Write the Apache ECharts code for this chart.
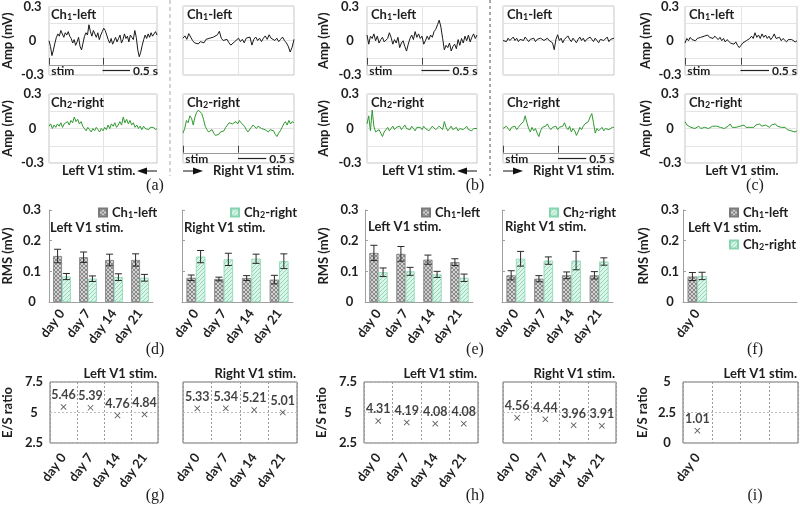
<!DOCTYPE html>
<html><head><meta charset="utf-8">
<script src="https://cdn.jsdelivr.net/npm/echarts@6/dist/echarts.min.js"></script>
<style>html,body{margin:0;padding:0;background:#fff}#c{width:800px;height:505px}</style>
</head><body><div id="c"></div>
<script>
// ---------------- DATA ----------------
// Top row: EEG traces (mV), evenly sampled over 0..2 s
const aL_ch1 = [0.00,-0.05,-0.13,-0.08,-0.02,0.03, 0.06,0.04,0.09,0.06,0.03,0.07,0.05,0.08,0.04, 0.02,-0.02,0.01,-0.04,-0.01,0.03,-0.05,-0.08,-0.02,0.04, 0.07,0.05,0.14,0.08,0.04,0.09,0.06,0.03,0.07,0.01,0.05,0.08,0.11,0.09, 0.05,0.01,-0.02,0.02,-0.03,0.00,0.03,-0.01,0.02,0.05,-0.02,0.01,0.06,0.02,0.04,-0.01,0.05,0.03,0.01,0.09, 0.03,-0.08,-0.14,-0.10,-0.04,0.01,0.05,0.02,0.06,0.03,0.07,0.04,0.06,0.08,0.05];
const aR_ch1 = [0.02,0.04,0.01,0.06,0.03,0.00,-0.02,-0.01, -0.03,-0.01,0.00,-0.02,0.01,0.00,0.02,0.01,0.03, 0.02,0.05,0.08,0.02,0.00,-0.01,0.01,-0.02,-0.04, -0.05,-0.01,0.00,0.02,-0.01,0.01,-0.02,0.02,0.01,0.03, -0.04,0.01,0.03,0.00,0.02,-0.01,0.02,0.04,0.01, 0.05,0.02,0.03,0.00,0.02,-0.01,0.01,0.03,0.00,-0.02,-0.05,-0.10,-0.06,0.01];
const aL_ch2 = [0.02,0.04,0.00,0.03,0.01,0.04,0.02,0.05,0.01,0.04,0.03, 0.06,0.03,0.07,0.05,0.10,0.06,0.08,0.04,0.06,0.02, 0.00,-0.02,0.01,-0.01,-0.03,0.00,-0.02,0.01,-0.01,-0.03,0.00,-0.02, 0.01,-0.01,0.03,0.00,0.04,0.02,0.05,0.01,0.03,0.06,0.03,0.10,0.05,0.08,0.04,0.07,0.03,0.05, 0.01,0.03,0.00,0.02,-0.01,0.02,0.00,0.01,-0.01,0.01,0.00,0.01,-0.01,0.00];
const aR_ch2 = [-0.04,0.00,0.07,0.05,0.11,0.09,0.03,0.10,0.14,0.16, 0.15,0.13,0.08,0.02,-0.01,-0.03,-0.02,-0.01,-0.04,-0.06, -0.07,-0.05,-0.03,-0.04,-0.02,0.01,0.03,0.05,0.06,0.04, 0.03,0.06,0.04,0.07,0.05,0.06,0.02,-0.01,-0.03,-0.02, 0.01,0.03,0.02,0.00,0.02,0.01,0.00,0.01,-0.01,0.00, -0.03,-0.01,0.00,-0.02,-0.05,-0.07,-0.04,-0.02,0.01,0.04,0.06,0.03,0.07,0.04,0.06,0.05];
const bL_ch1 = [0.05,-0.03,0.04,0.02,0.06,0.00,0.04,-0.02,0.01,0.03,-0.01, 0.00,0.02,0.07,0.03,-0.03,0.01,-0.02,0.03,-0.06,-0.02, 0.00,-0.05,-0.09,-0.03,0.02,0.05,0.01,0.08,0.03,0.06, 0.02,0.04,-0.03,0.00,0.04,0.01,0.05,0.03,0.08,0.10, 0.14,0.18,0.12,0.02,-0.08,-0.04,-0.06,-0.02,-0.09,-0.05, -0.03,-0.07,0.01,-0.04,0.02,-0.02,0.04,0.00,0.05,-0.01,0.03,0.06,0.02,0.05];
const bR_ch1 = [0.00,0.01,-0.01,0.02,0.00,0.01,0.03,0.00,0.02,-0.01,0.01,0.02,0.00,0.03,0.01,-0.01,0.01,0.00,0.02,-0.01,0.01,0.00,0.02,0.01,0.00,-0.01,0.02,0.00,0.01,-0.02, -0.08,0.01,0.05,0.00, 0.02,-0.02,0.01,0.00,0.04,0.01,-0.01,0.02,0.00,-0.02,0.01,0.03,0.00,0.02,-0.01,0.01,0.00,0.03,0.01,-0.01,0.02,0.00,-0.02,0.01,0.02,0.00,0.01,0.03,-0.01,0.01,0.00,0.02];
const bL_ch2 = [0.04,0.11,-0.02,0.16,0.02,-0.03,-0.04,-0.01,-0.02,-0.07,-0.03, -0.01,0.01,-0.02,0.00,0.02,-0.01,0.01,0.00,0.02,-0.01,0.01,0.03,0.00,0.01,-0.01,0.02,0.00,-0.02,0.01,0.00, 0.01,-0.01,0.02,0.00,0.01,-0.02,0.00,0.02,0.01,-0.01,0.00,0.02,0.01,-0.01,0.06,0.01,-0.02,0.00,0.02,-0.01, 0.00,0.01,-0.02,0.00,0.01,-0.01,0.00,0.02,-0.01,0.00,-0.02,0.00,0.01,0.00];
const bR_ch2 = [0.00,-0.01,0.02,0.00,-0.02,0.01,0.00,0.02,-0.01,0.01, 0.03,0.02,0.06,0.11,0.05,0.00,-0.03,0.01,-0.02,0.00, -0.04,-0.07,-0.02,0.01,0.00,0.02,0.04,0.01,-0.01,0.01, 0.00,0.02,-0.01,0.01,0.00,0.02,0.05,0.01,-0.01,0.02, -0.03,0.00,-0.02,-0.06,-0.03,0.01,-0.01,0.02,0.04,0.03, 0.06,0.10,0.13,0.05,-0.04,0.00,-0.02,-0.01,0.01,-0.02,0.00,0.01,-0.01,0.00,0.01,0.01];
const c_ch1 = [-0.02,0.02,0.00,0.03,0.01,0.02,0.00,0.02,0.01,0.03,0.02,0.04,0.03,0.05,0.03,0.04,0.02,0.04, 0.03,0.01,0.03,0.00,0.02,-0.01,0.01,0.00,-0.02,-0.01,-0.03,-0.01,-0.04,-0.06, -0.04,-0.02,-0.03,0.00,-0.01,0.02,0.04,0.02,0.07,0.03,0.05,0.02,0.06,0.03,0.05, 0.02,0.04,0.01,0.03,0.06,0.02,0.01,0.03,0.00,0.02,0.01,-0.01,0.01,0.00,0.01,0.00,-0.01,0.00];
const c_ch2 = [0.06,0.03,0.02,0.01,0.02,0.00,0.01,0.02,0.00,0.01,0.01,0.02,0.00,0.01,0.02,0.01,0.02,0.03,0.01,0.02,0.00,0.01,0.02,0.04,0.01,0.02,0.01,0.00,0.02,0.01,0.03,0.01,0.02,0.01,0.02,0.01,0.03,0.02,0.04,0.02,0.01,0.03,0.02,0.01,0.03,0.02,0.04,0.02,0.03,0.01,0.00,0.01,-0.01,0.00,-0.02,-0.01,-0.03,-0.02];

// Middle row: RMS (mV) mean and error
const days = ['day 0','day 7','day 14','day 21'];
const daysF = ['day 0','','',''];
const dL_ch1 = [0.150,0.146,0.137,0.137], dL_ch1e = [0.022,0.017,0.019,0.020];
const dL_ch2 = [0.083,0.076,0.081,0.079], dL_ch2e = [0.010,0.009,0.011,0.011];
const dR_ch1 = [0.079,0.075,0.078,0.073], dR_ch1e = [0.009,0.006,0.008,0.014];
const dR_ch2 = [0.148,0.139,0.141,0.133], dR_ch2e = [0.020,0.020,0.015,0.024];
const eL_ch1 = [0.160,0.157,0.138,0.130], eL_ch1e = [0.025,0.024,0.015,0.011];
const eL_ch2 = [0.097,0.100,0.090,0.079], eL_ch2e = [0.014,0.013,0.010,0.012];
const eR_ch1 = [0.087,0.076,0.087,0.087], eR_ch1e = [0.015,0.010,0.011,0.012];
const eR_ch2 = [0.141,0.135,0.135,0.132], eR_ch2e = [0.024,0.012,0.030,0.012];
const f_ch1 = [0.083], f_ch1e = [0.013];
const f_ch2 = [0.085], f_ch2e = [0.012];

// Bottom row: E/S ratio
const gL = [5.46,5.39,4.76,4.84], gR = [5.33,5.34,5.21,5.01];
const hL = [4.31,4.19,4.08,4.08], hR = [4.56,4.44,3.96,3.91];
const iL = [1.01];

// ---------------- BUILD ----------------
const FONT = 'Lato', TXT = '#1e1e1e';
const grid=[], xAxis=[], yAxis=[], series=[], title=[], legend=[], graphic=[];
const richCh = {
  a:{fontFamily:FONT,fontWeight:'bold',fontSize:13,color:TXT},
  s:{fontFamily:FONT,fontWeight:'bold',fontSize:9,color:TXT,padding:[6,0,0,0]}
};
function chText(n){ return n===1 ? '{a|Ch}{s|1}{a|-left}' : '{a|Ch}{s|2}{a|-right}'; }
const lbl = {fontFamily:FONT,fontWeight:'bold',fontSize:13,color:TXT};

function near(a,b){return Math.abs(a-b)<1e-6;}

function trace(left, top, width, vals, color, ch, yOpt, stim){
  const gi = grid.length;
  grid.push({left, top, width, height:69, show:true, borderColor:'#c4c4c4', borderWidth:1});
  xAxis.push({type:'value', gridIndex:gi, min:0, max:2, interval:1, axisLine:{show:false}, axisTick:{show:false}, axisLabel:{show:false}, splitLine:{show:true,lineStyle:{color:'#e4e4e4'}}});
  yAxis.push({type:'value', gridIndex:gi, min:-0.3, max:0.3, interval:0.15, axisLine:{show:false}, axisTick:{show:false},
    axisLabel: yOpt ? {show:true, ...lbl, align:'center', margin:yOpt.margin, formatter:v=> near(v,0.3)?'0.3':near(v,0)?'0':near(v,-0.3)?'-0.3':''} : {show:false},
    splitLine:{show:true,lineStyle:{color:'#e4e4e4'}},
    name: yOpt ? 'Amp (mV)' : '', nameLocation:'middle', nameGap: yOpt ? yOpt.gap : 0, nameTextStyle:lbl});
  const dt = 2/(vals.length-1);
  const s = {type:'line', xAxisIndex:gi, yAxisIndex:gi, data: vals.map((v,i)=>[i*dt, v]), symbol:'none', silent:true, animation:false,
    lineStyle:{color, width:1}, z:3};
  if (stim){
    const st = {fontFamily:FONT,fontWeight:'bold',fontSize:12,color:TXT};
    s.markLine = {silent:true, animation:false, symbol:['none','none'], label:{show:false}, data:[
      [{coord:[0.01,-0.15], lineStyle:{color:'#444',width:1,type:'solid'}},{coord:[0.01,-0.21]}],
      [{coord:[1,-0.15], lineStyle:{color:'#444',width:1,type:'solid'}},{coord:[1,-0.21]}],
      [{coord:[0,-0.213], lineStyle:{color:'#999',width:1,type:'solid'}},{coord:[2,-0.213]}],
      [{coord:[0.99,-0.262], lineStyle:{color:'#222',width:1.2,type:'solid'}, label:{show:true, position:'end', distance:3, formatter:'0.5 s', ...st}},{coord:[1.5,-0.262]}]
    ]};
    s.markPoint = {silent:true, animation:false, data:[{coord:[0.04,-0.262], symbol:'circle', symbolSize:0.1, itemStyle:{color:'transparent'},
      label:{show:true, position:'right', distance:0, formatter:'stim', ...st}}]};
  }
  series.push(s);
  title.push({text:chText(ch), left:left+4, top:top+1, padding:0, textStyle:{rich:richCh}});
}

const T1 = 6, T2 = 94;
trace(47, T1, 110, aL_ch1, '#1a1a1a', 1, {margin:16.5, gap:35}, true);
trace(47, T2, 110, aL_ch2, '#2f9a2f', 2, {margin:16.5, gap:35}, false);
trace(183, T1, 111, aR_ch1, '#1a1a1a', 1, null, false);
trace(183, T2, 111, aR_ch2, '#2f9a2f', 2, null, true);
trace(367, T1, 110, bL_ch1, '#1a1a1a', 1, {margin:17, gap:37}, true);
trace(367, T2, 110, bL_ch2, '#2f9a2f', 2, {margin:17, gap:37}, false);
trace(503, T1, 111, bR_ch1, '#1a1a1a', 1, null, false);
trace(503, T2, 111, bR_ch2, '#2f9a2f', 2, null, true);
trace(685, T1, 112, c_ch1, '#1a1a1a', 1, {margin:15, gap:33}, true);
trace(685, T2, 112, c_ch2, '#2f9a2f', 2, {margin:15, gap:33}, false);

// patterns
function pat(draw, w, h){ const c=document.createElement('canvas'); c.width=w; c.height=h; const g=c.getContext('2d'); draw(g); return c; }
const pat1 = pat(g=>{ g.fillStyle='#d2d2d2'; g.fillRect(0,0,4,4); g.strokeStyle='#6a6a6a'; g.lineWidth=0.7; g.beginPath(); g.moveTo(0,0); g.lineTo(4,4); g.moveTo(4,0); g.lineTo(0,4); g.stroke(); },4,4);
const pat2 = pat(g=>{ g.fillStyle='#dcf5ea'; g.fillRect(0,0,4,4); g.strokeStyle='#7fd0aa'; g.lineWidth=0.8; g.beginPath(); g.moveTo(-1,5); g.lineTo(5,-1); g.moveTo(-1,1); g.lineTo(1,-1); g.moveTo(3,5); g.lineTo(5,3); g.stroke(); },4,4);
const C1 = {color:{image:pat1, repeat:'repeat'}, borderColor:'#7a7a7a', borderWidth:0.8};
const C2 = {color:{image:pat2, repeat:'repeat'}, borderColor:'#86d5b0', borderWidth:0.8};

function errSeries(gi, vals, errs, off){
  return {type:'custom', xAxisIndex:gi, yAxisIndex:gi, silent:true, z:6, animation:false,
    data: vals.map((v,i)=>[i, v, errs[i]]), encode:{x:0, y:1},
    renderItem(params, api){
      const i=api.value(0), v=api.value(1), e=api.value(2);
      const band = api.size([1,0])[0];
      const x = api.coord([i, v])[0] + off*band;
      const yt = api.coord([i, v+e])[1], yb = api.coord([i, v-e])[1];
      const cw = 3.5, st = {stroke:'#2a2a2a', lineWidth:1};
      return {type:'group', children:[
        {type:'line', shape:{x1:x,y1:yt,x2:x,y2:yb}, style:st},
        {type:'line', shape:{x1:x-cw,y1:yt,x2:x+cw,y2:yt}, style:st},
        {type:'line', shape:{x1:x-cw,y1:yb,x2:x+cw,y2:yb}, style:st}]};
    }};
}

function bars(left, width, cats, c1, c1e, c2, c2e, yOpt){
  const gi = grid.length;
  grid.push({left, top:210, width, height:92});
  xAxis.push({type:'category', gridIndex:gi, data:cats, axisLine:{lineStyle:{color:'#a0a0a0'}}, axisTick:{show:false},
    axisLabel:{...lbl, fontSize:13, rotate:53, margin:9, interval:0}});
  yAxis.push({type:'value', gridIndex:gi, min:0, max:0.3, interval:0.1, axisLine:{show:true,lineStyle:{color:'#a0a0a0'}},
    axisTick:{show:true, inside:true, length:3, lineStyle:{color:'#a0a0a0'}}, splitLine:{show:false},
    axisLabel: yOpt ? {show:true, ...lbl, align:'center', margin:yOpt.margin, formatter:v=>String(+v.toFixed(1))} : {show:false},
    name: yOpt ? 'RMS (mV)' : '', nameLocation:'middle', nameGap: yOpt ? yOpt.gap : 0, nameTextStyle:lbl});
  series.push({type:'bar', name:'Ch1-left', xAxisIndex:gi, yAxisIndex:gi, data:c1, barWidth:'34%', barGap:'0%', itemStyle:C1, silent:true, animation:false});
  series.push({type:'bar', name:'Ch2-right', xAxisIndex:gi, yAxisIndex:gi, data:c2, barWidth:'34%', barGap:'0%', itemStyle:C2, silent:true, animation:false});
  series.push(errSeries(gi, c1, c1e, -0.17));
  series.push(errSeries(gi, c2, c2e, 0.17));
}
bars(47, 106, days, dL_ch1, dL_ch1e, dL_ch2, dL_ch2e, {margin:17, gap:35});
bars(182, 111, days, dR_ch1, dR_ch1e, dR_ch2, dR_ch2e, null);
bars(365, 108, days, eL_ch1, eL_ch1e, eL_ch2, eL_ch2e, {margin:15.5, gap:35});
bars(502, 111, days, eR_ch1, eR_ch1e, eR_ch2, eR_ch2e, null);
bars(683, 114, daysF, f_ch1, f_ch1e, f_ch2, f_ch2e, {margin:13, gap:33});

function leg(name, left, top){
  legend.push({data:[name], left, top, padding:0, icon:'rect', itemWidth:8, itemHeight:8, selectedMode:false,
    formatter:n=>chText(n==='Ch1-left'?1:2), textStyle:{rich:richCh}});
}
leg('Ch1-left', 98, 206); leg('Ch2-right', 230, 206);
leg('Ch1-left', 421, 206); leg('Ch2-right', 549, 206);
leg('Ch1-left', 729, 206); leg('Ch2-right', 729, 238);

function txt(text, left, top, extra){ title.push({text, left, top, padding:0, textStyle:{...lbl, ...(extra||{})}}); }
txt('Left V1 stim.', 50, 221); txt('Right V1 stim.', 184, 221);
txt('Left V1 stim.', 368, 220); txt('Right V1 stim.', 505, 220);
txt('Left V1 stim.', 688, 221);

// bottom row
const Xsym = 'path://M0,1L1,0L5,4L9,0L10,1L6,5L10,9L9,10L5,6L1,10L0,9L4,5Z';
function es(left, width, cats, vals, ymin, ymax, yOpt, ttl){
  const gi = grid.length;
  grid.push({left, top:382, width, height:61, show:true, borderColor:'#6a6a6a', borderWidth:1});
  xAxis.push({type:'category', gridIndex:gi, data:cats, axisLine:{show:false}, axisTick:{show:false},
    splitLine:{show:true, interval:0, lineStyle:{color:'#9a9a9a', type:[2,2]}},
    axisLabel:{...lbl, fontSize:13, rotate:53, margin:12, interval:0}});
  yAxis.push({type:'value', gridIndex:gi, min:ymin, max:ymax, interval:2.5, axisLine:{show:false}, axisTick:{show:false},
    splitLine:{show:true, lineStyle:{color:'#bdbdbd', type:[2,2]}},
    axisLabel: yOpt ? {show:true, ...lbl, align:'center', margin:yOpt.margin, formatter:v=>String(+v.toFixed(1))} : {show:false},
    name: yOpt ? 'E/S ratio' : '', nameLocation:'middle', nameGap: yOpt ? yOpt.gap : 0, nameTextStyle:lbl});
  series.push({type:'scatter', xAxisIndex:gi, yAxisIndex:gi, data:vals, symbol:Xsym, symbolSize:6, itemStyle:{color:'#333'}, silent:true, animation:false,
    label:{show:true, position:'top', distance:2, formatter:p=>p.value.toFixed(2), fontFamily:FONT, fontWeight:'bold', fontSize:12.5, color:'#111'}});
  title.push({text:ttl, right: 800-(left+width)+1, top:367, padding:0, textStyle:{...lbl}});
}
es(44, 114, days, gL, 2.5, 7.5, {margin:16, gap:36}, 'Left V1 stim.');
es(183, 114, days, gR, 2.5, 7.5, null, 'Right V1 stim.');
es(364, 114, days, hL, 2.5, 7.5, {margin:16, gap:36}, 'Left V1 stim.');
es(503, 113, days, hR, 2.5, 7.5, null, 'Right V1 stim.');
es(683, 115, daysF, iL, 0, 5, {margin:16, gap:34}, 'Left V1 stim.');

// decorations: separators, captions, arrows, panel letters
function gtext(text, x, y, font, align){ graphic.push({type:'text', x, y, silent:true, style:{text, font, fill:TXT, align:align||'left', verticalAlign:'middle', textAlign:align||'left', textVerticalAlign:'middle'}}); }
graphic.push({type:'line', silent:true, shape:{x1:170,y1:0,x2:170,y2:176}, style:{stroke:'#b8b8b8', lineWidth:1.2, lineDash:[4,3]}});
graphic.push({type:'line', silent:true, shape:{x1:490,y1:0,x2:490,y2:176}, style:{stroke:'#555', lineWidth:1, lineDash:[3,3]}});
const capFont = 'bold 13px Lato';
function arrowL(x, y){ graphic.push({type:'polygon', silent:true, shape:{points:[[x,y],[x+10,y-3.5],[x+10,y+3.5]]}, style:{fill:'#111'}}); graphic.push({type:'line', silent:true, shape:{x1:x+10,y1:y,x2:x+20,y2:y}, style:{stroke:'#111',lineWidth:1}}); }
function arrowR(x, y){ graphic.push({type:'line', silent:true, shape:{x1:x,y1:y,x2:x+10,y2:y}, style:{stroke:'#111',lineWidth:1}}); graphic.push({type:'polygon', silent:true, shape:{points:[[x+20,y],[x+10,y-3.5],[x+10,y+3.5]]}, style:{fill:'#111'}}); }
gtext('Left V1 stim.', 62, 171, capFont); arrowL(137, 171);
arrowR(183, 171); gtext('Right V1 stim.', 213, 171, capFont);
gtext('Left V1 stim.', 382, 171, capFont); arrowL(457, 171);
arrowR(503, 171); gtext('Right V1 stim.', 533, 171, capFont);
gtext('Left V1 stim.', 742, 171, capFont, 'center');
const pf = '16px "Liberation Serif"';
gtext('(a)', 155, 186, pf, 'center'); gtext('(b)', 475, 186, pf, 'center'); gtext('(c)', 755, 186, pf, 'center');
gtext('(d)', 155, 350, pf, 'center'); gtext('(e)', 475, 350, pf, 'center'); gtext('(f)', 755, 350, pf, 'center');
gtext('(g)', 155, 496, pf, 'center'); gtext('(h)', 475, 496, pf, 'center'); gtext('(i)', 755, 496, pf, 'center');

const chart = echarts.init(document.getElementById('c'), null, {renderer:'canvas'});
chart.setOption({backgroundColor:'#fff', animation:false, textStyle:{fontFamily:FONT}, grid, xAxis, yAxis, series, title, legend, graphic});
</script></body></html>
